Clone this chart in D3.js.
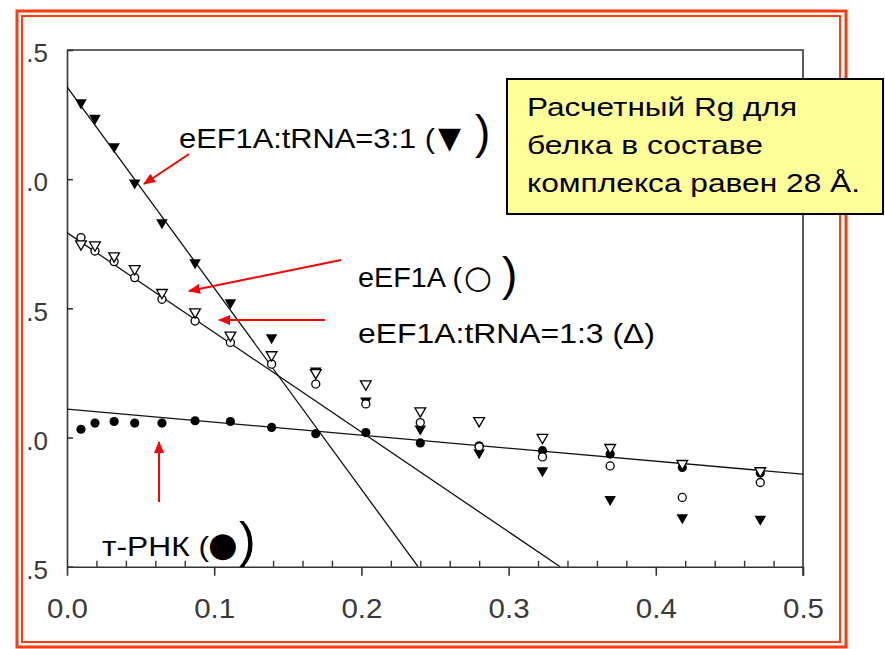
<!DOCTYPE html>
<html>
<head>
<meta charset="utf-8">
<script src="https://cdn.jsdelivr.net/npm/d3@7"></script>
<style>
  body { margin: 0; background: #fff; }
  svg { display: block; }
</style>
</head>
<body>
<div class="chart"></div>
<script>
// scattering vector squared (x) for every series
const q = [0.0095, 0.019, 0.032, 0.046, 0.0645, 0.087, 0.111, 0.139, 0.169, 0.203, 0.240, 0.280, 0.323, 0.369, 0.418, 0.471];
// eEF1A:tRNA=3:1 (filled down triangles)
const complex31 = [1.296, 1.236, 1.126, 0.986, 0.832, 0.677, 0.522, 0.387, 0.258, 0.142, 0.034, -0.058, -0.128, -0.239, -0.310, -0.316];
// eEF1A (open circles)
const eef1a = [0.774, 0.722, 0.681, 0.619, 0.535, 0.451, 0.368, 0.284, 0.207, 0.130, 0.058, -0.036, -0.075, -0.110, -0.232, -0.174];
// eEF1A:tRNA=1:3 (open triangles)
const complex13 = [0.749, 0.745, 0.703, 0.653, 0.561, 0.486, 0.396, 0.320, 0.251, 0.207, 0.103, 0.065, 0.000, -0.039, -0.101, -0.129];
// tRNA (filled circles)
const trna = [0.032, 0.056, 0.062, 0.056, 0.056, 0.065, 0.062, 0.039, 0.015, 0.019, -0.021, -0.032, -0.051, -0.064, -0.116, -0.137];
// fitted straight lines: [x0, y0, x1, y1]
const fits = [[0, 1.357, 0.2385, -0.5], [0, 0.793, 0.335, -0.5], [0, 0.110, 0.5, -0.142]];

const xTicks = [0, 0.1, 0.2, 0.3, 0.4, 0.5];
const xTickLabels = ["0.0", "0.1", "0.2", "0.3", "0.4", "0.5"];
const yTicks = [-0.5, 0, 0.5, 1.0, 1.5];
const yTickLabels = [".5", ".0", ".5", ".0", ".5"];

const boxLines = ["Расчетный Rg для", "белка в составе", "комплекса равен 28 Å."];

const width = 885, height = 649;
const margin = {top: 50, right: 82, bottom: 82, left: 67};

const svg = d3.select(".chart").append("svg")
  .attr("width", width)
  .attr("height", height);

const x = d3.scaleLinear().domain([0, 0.5]).range([margin.left, width - margin.right]);
const y = d3.scaleLinear().domain([-0.5, 1.5]).range([height - margin.bottom - 0.3, margin.top]);

// slide frame (double red border)
svg.append("rect").attr("x", 17).attr("y", 11).attr("width", 829).attr("height", 636)
  .attr("fill", "none").attr("stroke", "#ff3b0f").attr("stroke-width", 3);
svg.append("rect").attr("x", 22).attr("y", 16).attr("width", 818).attr("height", 626)
  .attr("fill", "none").attr("stroke", "#ff3b0f").attr("stroke-width", 2);

const axisColor = "#333";
const tickFont = "'Liberation Sans', Arial, sans-serif";

// minor x ticks, pointing inward
const minor = d3.range(0.02, 0.5, 0.02).filter(v => Math.abs(v * 10 - Math.round(v * 10)) > 1e-6);
svg.append("g")
  .attr("transform", `translate(0, ${y(-0.5)})`)
  .call(d3.axisBottom(x).tickValues(minor).tickSize(-6).tickSizeOuter(0).tickFormat(""))
  .call(g => g.select(".domain").remove())
  .call(g => g.selectAll("line").attr("stroke", axisColor).attr("stroke-width", 1.4));

// major x ticks, pointing outward
svg.append("g")
  .attr("transform", `translate(0, ${y(-0.5)})`)
  .call(d3.axisBottom(x).tickValues(xTicks).tickSize(9).tickSizeOuter(0)
    .tickFormat((d, i) => xTickLabels[i]))
  .call(g => g.select(".domain").attr("stroke", axisColor).attr("stroke-width", 1.6))
  .call(g => g.selectAll("line").attr("stroke", axisColor).attr("stroke-width", 1.6))
  .call(g => g.selectAll("text")
    .attr("y", 51).attr("dy", null)
    .attr("fill", "#3a3a3a")
    .attr("font-family", tickFont)
    .attr("font-size", 27)
    .attr("textLength", 41)
    .attr("lengthAdjust", "spacingAndGlyphs"));

// y axis
svg.append("g")
  .attr("transform", `translate(${x(0)}, 0)`)
  .call(d3.axisLeft(y).tickValues(yTicks).tickSize(-6).tickSizeOuter(0).tickPadding(19)
    .tickFormat((d, i) => yTickLabels[i]))
  .call(g => g.select(".domain").attr("stroke", axisColor).attr("stroke-width", 1.6))
  .call(g => g.selectAll("line").attr("stroke", axisColor).attr("stroke-width", 1.6))
  .call(g => g.selectAll("text")
    .attr("dy", "0.45em")
    .attr("fill", "#3a3a3a")
    .attr("font-family", tickFont)
    .attr("font-size", 26));

// top and right frame lines
svg.append("path")
  .attr("d", `M${x(0)},${y(1.5)}H${x(0.5)}V${y(-0.5) + 9}`)
  .attr("fill", "none").attr("stroke", axisColor).attr("stroke-width", 1.6);

// fitted lines, clipped to the plot area
svg.append("clipPath").attr("id", "plot-clip")
  .append("rect")
  .attr("x", x(0)).attr("y", y(1.5))
  .attr("width", x(0.5) - x(0)).attr("height", y(-0.5) - y(1.5));

svg.append("g")
  .attr("clip-path", "url(#plot-clip)")
  .selectAll("line")
  .data(fits)
  .join("line")
    .attr("x1", d => x(d[0]))
    .attr("y1", d => y(d[1]))
    .attr("x2", d => x(d[2]))
    .attr("y2", d => y(d[3]))
    .attr("stroke", "#111")
    .attr("stroke-width", 1.3);

// markers
const triDown = d3.symbol().type(d3.symbolTriangle).size(58);
const pts = vals => vals.map((v, i) => [q[i], v]);

svg.append("g")
  .selectAll("path")
  .data(pts(complex31))
  .join("path")
    .attr("d", triDown)
    .attr("transform", d => `translate(${x(d[0])}, ${y(d[1])}) rotate(180)`)
    .attr("fill", "#000");

svg.append("g")
  .selectAll("circle")
  .data(pts(trna))
  .join("circle")
    .attr("cx", d => x(d[0]))
    .attr("cy", d => y(d[1]))
    .attr("r", 4.6)
    .attr("fill", "#000");

svg.append("g")
  .selectAll("circle")
  .data(pts(eef1a))
  .join("circle")
    .attr("cx", d => x(d[0]))
    .attr("cy", d => y(d[1]))
    .attr("r", 4)
    .attr("fill", "#fff")
    .attr("stroke", "#000")
    .attr("stroke-width", 1.3);

svg.append("g")
  .selectAll("path")
  .data(pts(complex13))
  .join("path")
    .attr("d", d3.symbol().type(d3.symbolTriangle).size(50))
    .attr("transform", d => `translate(${x(d[0])}, ${y(d[1])}) rotate(180)`)
    .attr("fill", "#fff")
    .attr("stroke", "#000")
    .attr("stroke-width", 1.3);

// red arrows
svg.append("defs").append("marker")
  .attr("id", "head")
  .attr("viewBox", "0 0 12 10")
  .attr("refX", 11).attr("refY", 5)
  .attr("markerWidth", 12).attr("markerHeight", 10)
  .attr("markerUnits", "userSpaceOnUse")
  .attr("orient", "auto")
  .append("path")
    .attr("d", "M0,0L12,5L0,10Z")
    .attr("fill", "#ff0000");

const arrows = [[189, 154, 144, 184], [341, 260, 189, 291], [325, 320, 219, 320], [159, 502, 159, 442]];
svg.append("g")
  .selectAll("line")
  .data(arrows)
  .join("line")
    .attr("x1", d => d[0]).attr("y1", d => d[1])
    .attr("x2", d => d[2]).attr("y2", d => d[3])
    .attr("stroke", "#ff0000")
    .attr("stroke-width", 2)
    .attr("marker-end", "url(#head)");

// annotation labels
const font = "'Liberation Sans', Arial, sans-serif";
const symFont = "'DejaVu Sans', sans-serif";
const label = (txt, lx, ly, size, len, fam) => {
  const t = svg.append("text")
    .attr("x", lx).attr("y", ly)
    .attr("font-family", fam || font)
    .attr("font-size", size)
    .attr("fill", "#000")
    .text(txt);
  if (len) t.attr("textLength", len).attr("lengthAdjust", "spacingAndGlyphs");
  return t;
};

label("eEF1A:tRNA=3:1 (", 179, 148, 28, 256);
label("▼", 438, 148, 30, null, symFont);
label(")", 475, 148, 46);

label("eEF1A (", 358, 287, 28, 104);
label("○", 464, 288, 32, null, symFont);
label(")", 502, 290, 46);

label("eEF1A:tRNA=1:3 (Δ)", 358, 343, 28, 297);

label("т-РНК (", 102, 556, 28, 107);
label("●", 208, 556, 34, null, symFont);
label(")", 239, 557, 50);

// yellow note
svg.append("rect")
  .attr("x", 507).attr("y", 79).attr("width", 376).attr("height", 135)
  .attr("fill", "#ffff99")
  .attr("stroke", "#000")
  .attr("stroke-width", 2);

const boxLens = [270, 236, 333];
boxLines.forEach((s, i) => label(s, 527, 116 + i * 38, 26, boxLens[i]));
</script>
</body>
</html>
